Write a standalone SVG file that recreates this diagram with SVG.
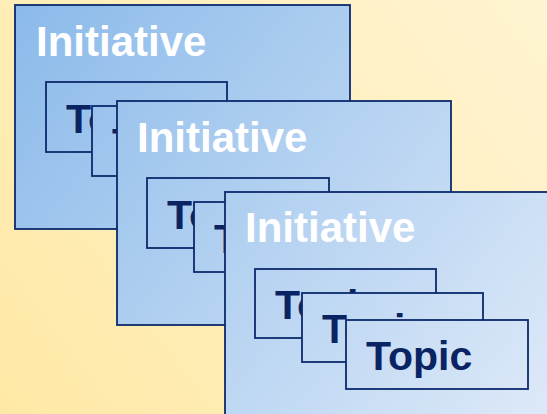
<svg xmlns="http://www.w3.org/2000/svg" width="547" height="414" viewBox="0 0 547 414">
<defs>
<linearGradient id="bg" gradientUnits="userSpaceOnUse" x1="0" y1="414" x2="547" y2="0">
<stop offset="0" stop-color="#FFE9A6"/>
<stop offset="1" stop-color="#FFF4D2"/>
</linearGradient>
<linearGradient id="blue" gradientUnits="userSpaceOnUse" x1="15" y1="5" x2="547" y2="414">
<stop offset="0" stop-color="#8BBAEA"/>
<stop offset="1" stop-color="#DDE9F8"/>
</linearGradient>
<style>
.init{fill:url(#blue);stroke:#0C2A6C;stroke-width:1.8}
.topic{fill:url(#blue);stroke:#0C2A6C;stroke-width:1.8}
.it{font-family:"Liberation Sans",Arial,sans-serif;font-weight:bold;font-size:42px;fill:#FFFFFF}
.tt{font-family:"Liberation Sans",Arial,sans-serif;font-weight:bold;font-size:41px;fill:#0A2463}
</style>
</defs>
<rect x="0" y="0" width="547" height="414" fill="url(#bg)"/>
<g id="initiative1">
<rect class="init" x="15" y="5" width="335" height="224"/>
<text class="it" x="36" y="56">Initiative</text>
<g id="topic1a"><rect class="topic" x="46" y="82" width="181" height="70"/><text class="tt" x="66" y="133">Topic</text></g>
<g id="topic1b"><rect class="topic" x="92" y="106" width="181" height="70"/><text class="tt" x="112" y="157">Topic</text></g>
</g>
<g id="initiative2">
<rect class="init" x="117" y="101" width="334" height="224"/>
<text class="it" x="137" y="152">Initiative</text>
<g id="topic2a"><rect class="topic" x="147" y="178" width="182" height="70"/><text class="tt" x="167" y="229">Topic</text></g>
<g id="topic2b"><rect class="topic" x="194" y="202" width="182" height="70"/><text class="tt" x="214" y="253">Topic</text></g>
</g>
<g id="initiative3">
<rect class="init" x="225" y="192" width="340" height="230"/>
<text class="it" x="245" y="242">Initiative</text>
<g id="topic3a"><rect class="topic" x="255" y="269" width="181" height="69"/><text class="tt" x="275" y="319">Topic</text></g>
<g id="topic3b"><rect class="topic" x="302" y="293" width="181" height="69"/><text class="tt" x="322" y="343">Topic</text></g>
<g id="topic3c"><rect class="topic" x="346" y="320" width="182" height="69"/><text class="tt" x="366" y="370">Topic</text></g>
</g>
<g id="connectors"/>
</svg>
